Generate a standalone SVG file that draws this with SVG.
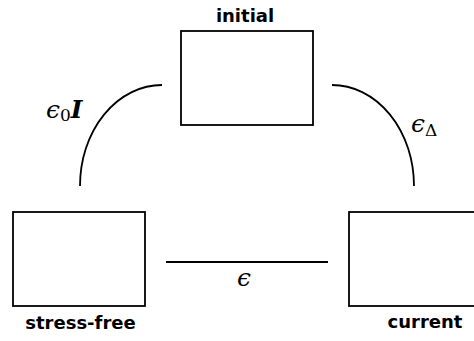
<svg xmlns="http://www.w3.org/2000/svg" width="474" height="341" viewBox="0 0 474 341">
<style>
.box{fill:#fff;stroke:#000;stroke-width:1.8}
.lbl{font-family:"DejaVu Sans",sans-serif;font-weight:bold;font-size:18px;fill:#000;text-anchor:middle}
.conn{fill:none;stroke:#000;stroke-width:1.8}
.math{font-family:"DejaVu Serif","Liberation Serif",serif;font-size:25px;fill:#000}
</style>
<rect width="474" height="341" fill="#fff"/>
<g id="initial">
<rect class="box" x="181" y="31" width="132" height="94"/>
<text class="lbl" x="245" y="22">initial</text>
</g>
<g id="stress-free">
<rect class="box" x="13" y="212" width="132" height="94"/>
<text class="lbl" x="80.5" y="329">stress-free</text>
</g>
<g id="current">
<rect class="box" x="349" y="212" width="132" height="94"/>
<text class="lbl" x="425" y="328">current</text>
</g>
<g id="connectors">
<path class="conn" d="M162,85 A82,101 0 0 0 80,186"/>
<path class="conn" d="M332,85 A82,101 0 0 1 414,186"/>
<line class="conn" x1="166" y1="262" x2="328" y2="262"/>
<text class="math" x="46" y="118"><tspan font-style="italic">ϵ</tspan><tspan font-size="17" dy="3">0</tspan><tspan font-style="italic" font-weight="bold" dy="-3">I</tspan></text>
<text class="math" x="411" y="132"><tspan font-style="italic">ϵ</tspan><tspan font-size="17" dy="4">Δ</tspan></text>
<text class="math" x="244" y="286" text-anchor="middle" font-style="italic">ϵ</text>
</g>
</svg>
